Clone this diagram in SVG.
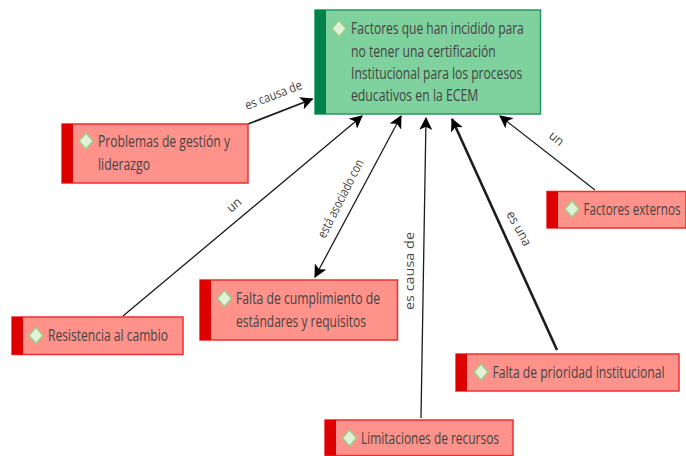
<svg xmlns="http://www.w3.org/2000/svg" width="686" height="456" viewBox="0 0 686 456">
<style>
text{font-family:"Open Sans","Liberation Sans",sans-serif;fill:#4a4a4a}
.t{font-size:17px;fill:#444}
.l{font-size:13px;fill:#444}
.red{fill:#ff928a;stroke:#ee2f33;stroke-width:1.5}
.redbar{fill:#de0000}
.grn{fill:#7fd19d;stroke:#1f9a63;stroke-width:1.5}
.grnbar{fill:#00834b}
.d{fill:#e2f2da;stroke:#9ccf84;stroke-width:1.5}
.c{stroke:#1c1c1c;stroke-width:1.3;fill:none}
</style>
<defs>
<marker id="a" viewBox="0 0 12 12" refX="11" refY="6" markerUnits="userSpaceOnUse" markerWidth="13" markerHeight="13" orient="auto-start-reverse"><path d="M0 0L12 6L0 12L3 6Z" fill="#000"/></marker>
<path id="dm" class="d" d="M0-8L7 0L0 8L-7 0Z"/>
</defs>
<g id="connectors">
<path class="c" style="stroke-width:1.800" d="M248 124L312.500 99" marker-end="url(#a)"/>
<path class="c" d="M123 316L362 116" marker-end="url(#a)"/>
<path class="c" d="M315 277L401 116" marker-start="url(#a)" marker-end="url(#a)"/>
<path class="c" d="M421 418L426 118" marker-end="url(#a)"/>
<path class="c" style="stroke-width:2.600" d="M557 350L452 119" marker-end="url(#a)"/>
<path class="c" d="M595 190L500 116" marker-end="url(#a)"/>
<text class="l" transform="translate(247 110) rotate(-21)" textLength="60" lengthAdjust="spacingAndGlyphs">es causa de</text>
<text class="l" transform="translate(231 213) rotate(-40)" textLength="15" lengthAdjust="spacingAndGlyphs">un</text>
<text class="l" transform="translate(325 239) rotate(-63)" textLength="86" lengthAdjust="spacingAndGlyphs">está asociado con</text>
<text class="l" transform="translate(414 310) rotate(-90)" textLength="78" lengthAdjust="spacingAndGlyphs">es causa de</text>
<text class="l" transform="translate(506 214) rotate(61)" textLength="38" lengthAdjust="spacingAndGlyphs">es una</text>
<text class="l" transform="translate(548 137) rotate(40)" textLength="15" lengthAdjust="spacingAndGlyphs">un</text>
</g>
<g id="n-main">
<rect class="grn" x="315" y="10" width="225.500" height="104"/>
<rect class="grnbar" x="315" y="10" width="11" height="104"/>
<use href="#dm" x="339" y="28.500"/>
<text class="t" transform="translate(351 34) scale(.8 1)" textLength="216" lengthAdjust="spacingAndGlyphs">Factores que han incidido para</text>
<text class="t" transform="translate(351 57) scale(.8 1)" textLength="181" lengthAdjust="spacingAndGlyphs">no tener una certificación</text>
<text class="t" transform="translate(351 79) scale(.8 1)" textLength="214" lengthAdjust="spacingAndGlyphs">Institucional para los procesos</text>
<text class="t" transform="translate(351 101) scale(.8 1)" textLength="159" lengthAdjust="spacingAndGlyphs">educativos en la ECEM</text>
</g>
<g id="n-problemas">
<rect class="red" x="62" y="124" width="186" height="59"/>
<rect class="redbar" x="62" y="124" width="11" height="59"/>
<use href="#dm" x="86" y="141"/>
<text class="t" transform="translate(98 147) scale(.8 1)" textLength="165" lengthAdjust="spacingAndGlyphs">Problemas de gestión y</text>
<text class="t" transform="translate(98 170) scale(.8 1)" textLength="65" lengthAdjust="spacingAndGlyphs">liderazgo</text>
</g>
<g id="n-resistencia">
<rect class="red" x="12" y="317" width="171" height="37.500"/>
<rect class="redbar" x="12" y="317" width="11" height="37.500"/>
<use href="#dm" x="36" y="335.500"/>
<text class="t" transform="translate(48 341) scale(.8 1)" textLength="150" lengthAdjust="spacingAndGlyphs">Resistencia al cambio</text>
</g>
<g id="n-cumplimiento">
<rect class="red" x="200" y="280" width="197.500" height="60"/>
<rect class="redbar" x="200" y="280" width="11" height="60"/>
<use href="#dm" x="224.500" y="298.500"/>
<text class="t" transform="translate(236 304) scale(.8 1)" textLength="180" lengthAdjust="spacingAndGlyphs">Falta de cumplimiento de</text>
<text class="t" transform="translate(236 327) scale(.8 1)" textLength="162.500" lengthAdjust="spacingAndGlyphs">estándares y requisitos</text>
</g>
<g id="n-limitaciones">
<rect class="red" x="325" y="420" width="188" height="35.500"/>
<rect class="redbar" x="325" y="420" width="11" height="35.500"/>
<use href="#dm" x="349.500" y="438"/>
<text class="t" transform="translate(361 444) scale(.8 1)" textLength="172.500" lengthAdjust="spacingAndGlyphs">Limitaciones de recursos</text>
</g>
<g id="n-prioridad">
<rect class="red" x="456" y="354" width="223" height="37"/>
<rect class="redbar" x="456" y="354" width="11" height="37"/>
<use href="#dm" x="481" y="372"/>
<text class="t" transform="translate(492.500 378) scale(.8 1)" textLength="215" lengthAdjust="spacingAndGlyphs">Falta de prioridad institucional</text>
</g>
<g id="n-externos">
<rect class="red" x="547" y="191.500" width="139" height="36.500"/>
<rect class="redbar" x="547" y="191.500" width="11" height="36.500"/>
<use href="#dm" x="572" y="209"/>
<text class="t" style="font-size:16px" transform="translate(583.500 215) scale(.73 1)">Factores externos</text>
</g>
</svg>
